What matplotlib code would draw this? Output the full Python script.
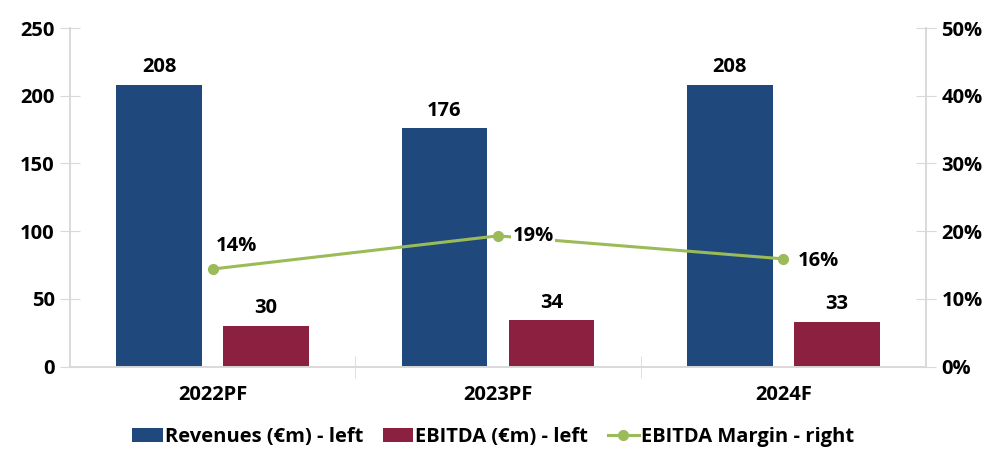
import matplotlib.pyplot as plt
import numpy as np
from matplotlib.ticker import FuncFormatter, MultipleLocator

categories = ["2022PF", "2023PF", "2024F"]
revenues = [208, 176, 208]
ebitda = [30, 34, 33]
margin = [14.4, 19.3, 15.9]
margin_labels = ["14%", "19%", "16%"]

BLUE = "#1F497D"
MAROON = "#8C2040"
GREEN = "#9BBB59"
AXIS = "#D9D9D9"

plt.rcParams["font.family"] = ["Open Sans", "DejaVu Sans"]
WT = "bold"
FS = 14.5
plt.rcParams["font.weight"] = WT

fig = plt.figure(figsize=(9.86, 4.49), dpi=100)
ax = fig.add_axes([70 / 986, 82.5 / 449, 856 / 986, 338.5 / 449])
ax2 = ax.twinx()

x = np.arange(len(categories))
w = 0.30
off = 0.1875
b1 = ax.bar(x - off, revenues, w, color=BLUE, label="Revenues (€m) - left", zorder=2)
b2 = ax.bar(x + off, ebitda, w, color=MAROON, label="EBITDA (€m) - left", zorder=2)

for xi, v in zip(x - off, revenues):
    ax.text(xi, v + 5.5, str(v), ha="center", va="bottom", fontsize=FS, fontweight=WT)
for xi, v in zip(x + off, ebitda):
    ax.text(xi, v + 5.5, str(v), ha="center", va="bottom", fontsize=FS, fontweight=WT)

ln, = ax2.plot(x, margin, color=GREEN, lw=2.2, marker="o", ms=7,
               label="EBITDA Margin - right", zorder=3)
# margin labels sit on a white box so the line breaks behind them
label_offsets = [(0.01, 3.4), (0.05, 0.0), (0.05, -0.3)]
for xi, v, t, (dx, dy) in zip(x, margin, margin_labels, label_offsets):
    ax2.text(xi + dx, v + dy, t, ha="left", va="center", fontsize=FS, fontweight=WT,
             zorder=4, bbox=dict(facecolor="white", edgecolor="none", pad=1.0))

ax.set_xlim(-0.5, 2.5)
ax.set_ylim(0, 250)
ax2.set_ylim(0, 50)
ax.yaxis.set_major_locator(MultipleLocator(50))
ax2.yaxis.set_major_locator(MultipleLocator(10))
ax2.yaxis.set_major_formatter(FuncFormatter(lambda v, p: f"{v:.0f}%"))

ax.set_xticks(x)
ax.set_xticklabels(categories)
ax.set_xticks([0.5, 1.5], minor=True)
ax.tick_params(axis="x", which="major", length=0, pad=13, labelsize=FS)
ax.tick_params(axis="x", which="minor", direction="inout", length=16, color=AXIS)
ax.tick_params(axis="y", direction="inout", length=14, color=AXIS, labelsize=FS, pad=4)
ax2.tick_params(axis="y", direction="inout", length=14, color=AXIS, labelsize=FS, pad=4)

for a in (ax, ax2):
    a.spines["top"].set_visible(False)
    for s in ("left", "right", "bottom"):
        a.spines[s].set_color(AXIS)
        a.spines[s].set_linewidth(1.2)

for lab in ax.get_yticklabels() + ax2.get_yticklabels() + ax.get_xticklabels():
    lab.set_fontweight(WT)

fig.legend(handles=[b1, b2, ln], loc="center", bbox_to_anchor=(0.500, 0.027), ncol=3,
           frameon=False, handlelength=1.5, handletextpad=0.1,
           columnspacing=1.0, prop={"weight": WT, "size": FS})

fig.savefig("out.png", dpi=100)
